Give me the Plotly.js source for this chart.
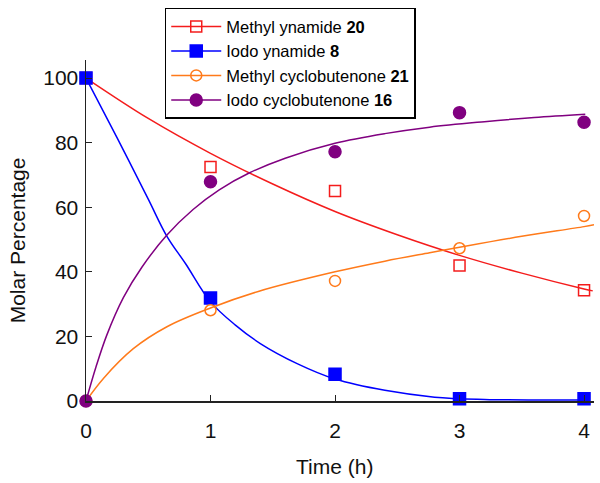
<!DOCTYPE html>
<html>
<head>
<meta charset="utf-8">
<script src="https://cdn.plot.ly/plotly-3.0.1.min.js"></script>
<style>
  html, body { margin: 0; padding: 0; background: #fff; }
  #chart { width: 600px; height: 483px; }
</style>
</head>
<body>
<div id="chart"></div>
<script>
// measured points
const times = [0, 1, 2, 3, 4];
const methylYnamide = [100, 72.5, 65, 42, 34.3];
const iodoYnamide = [100, 31.9, 8.3, 0.7, 0.7];
const methylCyclo = [0, 28.1, 37.2, 47.3, 57.3];
const iodoCyclo = [0, 67.9, 77.2, 89.3, 86.3];

// fitted curves
const fitRedT = [0, 0.5, 1, 1.5, 2, 2.5, 3, 3.5, 4, 4.07];
const fitRed = [100, 87.5, 76.7, 67.2, 58.7, 51.5, 45.1, 39.6, 34.7, 34.1];
const fitBlueT = [0, 0.25, 0.5, 0.65, 0.8, 1, 1.2, 1.4, 1.7, 2, 2.4, 2.8, 3.2, 3.6, 4.03];
const fitBlue = [100, 81.5, 62.5, 51, 42.5, 30.7, 23.5, 17.8, 11.5, 6.8, 3.3, 1.2, 0.5, 0.3, 0.3];
const fitOrangeT = [0, 0.14, 0.38, 0.65, 1, 1.39, 2, 2.4, 2.76, 3, 3.5, 4, 4.08];
const fitOrange = [0, 7, 16.2, 23, 28.8, 34, 40, 43.3, 45.9, 47.6, 51, 54, 54.6];
const fitPurpleT = [0, 0.08, 0.167, 0.3, 0.45, 0.65, 0.86, 1.07, 1.31, 1.6, 2, 2.4, 2.76, 3.2, 3.6, 4.01];
const fitPurple = [0, 10.5, 20.4, 32, 41.5, 51.4, 59.3, 65.4, 70.6, 75.2, 79.8, 82.8, 84.8, 86.5, 87.8, 88.8];

const names = ['Methyl ynamide <b>20</b>', 'Iodo ynamide <b>8</b>',
  'Methyl cyclobutenone <b>21</b>', 'Iodo cyclobutenone <b>16</b>'];

const RED = '#f41c1c', BLUE = '#0000ff', ORANGE = '#ff7a1a', PURPLE = '#800080';

const series = [
  {name: names[0], color: RED, y: methylYnamide, sym: 'square-open', size: 11, ft: fitRedT, fy: fitRed},
  {name: names[1], color: BLUE, y: iodoYnamide, sym: 'square', size: 12, ft: fitBlueT, fy: fitBlue},
  {name: names[2], color: ORANGE, y: methylCyclo, sym: 'circle-open', size: 11, ft: fitOrangeT, fy: fitOrange},
  {name: names[3], color: PURPLE, y: iodoCyclo, sym: 'circle', size: 12, ft: fitPurpleT, fy: fitPurple}
];

const data = [];
// curves first, markers on top
series.forEach(s => {
  data.push({
    x: s.ft, y: s.fy, mode: 'lines', showlegend: false, hoverinfo: 'skip',
    line: {color: s.color, width: 1.5, shape: 'spline', smoothing: 1},
    cliponaxis: false
  });
});
series.forEach(s => {
  data.push({
    x: times, y: s.y, mode: 'markers', showlegend: false,
    marker: {color: s.color, symbol: s.sym, size: s.size, line: {color: s.color, width: 1.5}},
    cliponaxis: false
  });
});
// legend entries
series.forEach(s => {
  data.push({
    x: [null], y: [null], mode: 'lines+markers', name: s.name,
    line: {color: s.color, width: 1.5},
    marker: {color: s.color, symbol: s.sym, size: s.size, line: {color: s.color, width: 1.5}}
  });
});

const font = 'Liberation Sans, Arial, Helvetica, sans-serif';

const layout = {
  width: 600, height: 483,
  margin: {l: 86, r: 6, t: 60, b: 82},
  paper_bgcolor: '#fff', plot_bgcolor: '#fff',
  font: {family: font, color: '#111', size: 21},
  showlegend: true,
  legend: {
    x: 0.155, y: 1.153, xanchor: 'left', yanchor: 'top',
    bordercolor: '#000', borderwidth: 1.5, bgcolor: '#fff',
    font: {family: font, size: 16.5, color: '#000'},
    itemwidth: 50,
    traceorder: 'normal'
  },
  xaxis: {
    range: [0, 4.08], tickvals: times, ticktext: ['0', '1', '2', '3', '4'],
    ticks: 'inside', ticklen: 6, tickwidth: 1, tickcolor: '#222',
    showline: true, linecolor: '#222', linewidth: 1.5,
    showgrid: false, zeroline: false, ticklabelstandoff: 10,
    tickfont: {size: 21}
  },
  yaxis: {
    range: [0, 105.6], tickvals: [0, 20, 40, 60, 80, 100],
    ticks: 'inside', ticklen: 6, tickwidth: 1, tickcolor: '#222',
    showline: true, linecolor: '#222', linewidth: 1.5,
    showgrid: false, zeroline: false, ticklabelstandoff: 2,
    tickfont: {size: 21}
  },
  annotations: [
    {text: 'Time (h)', xref: 'paper', yref: 'paper', x: 0.49, y: -0.1915,
      xanchor: 'center', yanchor: 'middle', showarrow: false, font: {size: 21}},
    {text: 'Molar Percentage', xref: 'paper', yref: 'paper', x: -0.136, y: 0.471,
      xanchor: 'center', yanchor: 'middle', textangle: -90, showarrow: false, font: {size: 21}}
  ]
};

Plotly.newPlot('chart', data, layout, {displayModeBar: false, staticPlot: true});
</script>
</body>
</html>
